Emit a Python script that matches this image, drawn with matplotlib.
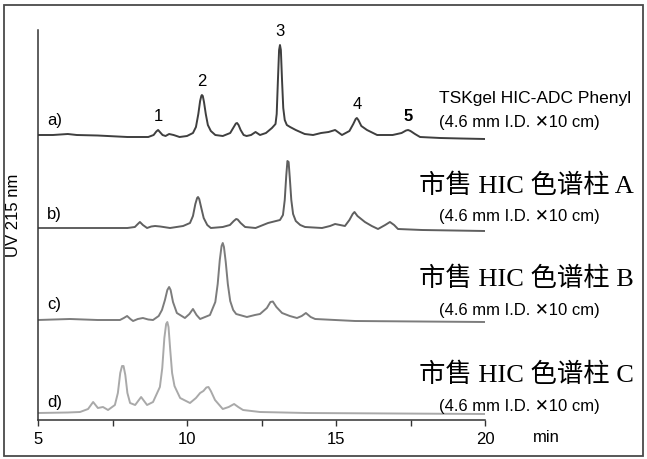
import matplotlib
matplotlib.use('Agg')
import matplotlib.pyplot as plt
from matplotlib.patches import Rectangle

plt.rcParams['font.family'] = ['Liberation Sans', 'DejaVu Sans']

# Chromatogram traces: retention time (min) and signal above each baseline (a.u.)
t_a = [5.0, 5.5, 6.0, 6.3, 7.0, 8.0, 8.7, 8.88, 8.97, 9.03, 9.09, 9.18, 9.28, 9.4, 9.55,
       9.75, 10.0, 10.2, 10.3, 10.38, 10.44, 10.48, 10.5, 10.53, 10.57, 10.63, 10.7,
       10.8, 10.95, 11.2, 11.45, 11.57, 11.64, 11.68, 11.73, 11.8, 11.9, 12.0, 12.15,
       12.3, 12.45, 12.65, 12.85, 12.97, 13.01, 13.05, 13.09, 13.12, 13.15, 13.19, 13.23,
       13.28, 13.35, 13.46, 13.65, 13.95, 14.23, 14.5, 14.75, 14.97, 15.2, 15.45, 15.58,
       15.66, 15.7, 15.75, 15.85, 16.04, 16.38, 16.9, 17.2, 17.35, 17.42, 17.5, 17.65,
       17.82, 18.5, 19.2, 20.0]
s_a = [1, 1, 2, 1, 0.5, -1, -1, 1, 4.5, 6, 4, 1, 0, 2, 1,
       -1, 0, 3, 9, 22, 35, 40, 41, 40, 34, 22, 11,
       5, 1, 0, 3, 9, 12.5, 13, 11, 6, 1, 0, 1,
       4, 1, 3, 8, 12, 22, 55, 86, 91, 86, 55, 28,
       16, 11, 9, 6, 2, 1, 3, 4, 6, 1, 5, 12,
       17, 18, 16, 10, 6, 1, 1, 3, 5.5, 6, 5, 2,
       -1, -2, -2.5, -3]

t_b = [5.0, 6.0, 7.0, 8.0, 8.25, 8.35, 8.42, 8.52, 8.66, 8.8, 8.93, 9.1, 9.43, 9.87,
       10.1, 10.2, 10.28, 10.34, 10.37, 10.41, 10.48, 10.56, 10.68, 10.8, 11.2, 11.44,
       11.57, 11.65, 11.7, 11.8, 11.95, 12.3, 12.72, 13.12, 13.22, 13.28, 13.33, 13.37,
       13.41, 13.45, 13.5, 13.56, 13.65, 13.8, 13.96, 14.53, 14.8, 14.97, 15.3, 15.45,
       15.56, 15.62, 15.72, 15.97, 16.2, 16.41, 16.65, 16.81, 16.95, 17.08, 17.89, 20.0]
s_b = [0, 0, 0, 0, 1, 4, 6, 3, 0, 1.5, 2, 1.5, 0, 2,
       5, 12, 24, 30, 31, 29, 20, 10, 3, 0, 1, 3,
       7, 9, 8.5, 5, 1, 0, 5, 8, 13, 28, 52, 67,
       66, 50, 28, 14, 7, 3, 1, 0, 2, 4, 2, 8,
       14, 16, 12, 6, 2, -1, 3, 6, 3, -1, -2, -3]

t_c = [5.0, 6.07, 7.0, 7.75, 7.88, 7.99, 8.1, 8.19, 8.35, 8.52, 8.7, 8.86, 9.05, 9.16,
       9.26, 9.34, 9.4, 9.45, 9.53, 9.66, 9.93, 10.08, 10.2, 10.32, 10.44, 10.77, 10.95,
       11.03, 11.1, 11.16, 11.2, 11.24, 11.3, 11.37, 11.45, 11.55, 11.65, 12.01, 12.28,
       12.45, 12.68, 12.8, 12.88, 13.0, 13.19, 13.45, 13.69, 13.85, 13.99, 14.15, 14.3,
       15.64, 20.0]
s_c = [0, 1, 0, 0, 2, 4, 1, -1, 1, 2, 0.5, 0, 4, 10,
       20, 30, 33, 30, 18, 7, 2, 6, 11, 5, 1, 5, 18,
       36, 60, 74, 77, 73, 58, 36, 19, 10, 6, 3, 5,
       6, 12, 18, 18.5, 13, 7, 4, 2, 4, 7, 3, 1,
       -1, -2]

t_d = [5.0, 6.0, 6.41, 6.68, 6.85, 7.01, 7.18, 7.35, 7.58, 7.68, 7.76, 7.82, 7.87,
       7.93, 8.0, 8.09, 8.26, 8.46, 8.66, 8.86, 9.09, 9.17, 9.24, 9.3, 9.34, 9.38, 9.44,
       9.5, 9.58, 9.77, 10.1, 10.3, 10.44, 10.55, 10.65, 10.72, 10.8, 10.94, 11.2, 11.4,
       11.58, 11.72, 11.88, 12.45, 14.0, 17.0, 20.0]
s_d = [0, 0.5, 1, 4, 11, 5, 6, 3, 8, 20, 40, 47, 47,
       38, 20, 10, 8, 16, 8, 11, 26, 45, 75, 89, 91, 86, 62,
       40, 27, 15, 10, 15, 20, 22, 25.5, 26, 22, 13, 4, 6,
       9, 6, 3, 1, 0, -0.5, -1]

trace_labels = ['a)', 'b)', 'c)', 'd)']
peak_numbers = ['1', '2', '3', '4', '5']
peak_times = [9.03, 10.5, 13.12, 15.7, 17.42]
column_names = ['TSKgel HIC-ADC Phenyl', '市售 HIC 色谱柱 A', '市售 HIC 色谱柱 B', '市售 HIC 色谱柱 C']
column_size = '(4.6 mm I.D. \u271510 cm)'

W, H = 647, 459
fig = plt.figure(figsize=(W / 100, H / 100), dpi=100)


def fx(px):
    return px / W


def fy(py):
    return 1 - py / H


ax = fig.add_axes([fx(38), fy(420), fx(485) - fx(38), (420 - 30) / H])
ax.set_xlim(5, 20)
ax.set_ylim(0, 390)

offsets = [284, 192, 100, 7]
colors = ['#3f3f3f', '#5f5f5f', '#7c7c7c', '#a9a9a9']
traces = [(t_a, s_a), (t_b, s_b), (t_c, s_c), (t_d, s_d)]
for (t, s), off, col in zip(traces, offsets, colors):
    ax.plot(t, [v + off for v in s], color=col, lw=1.4, solid_joinstyle='round')

for sp in ['top', 'right']:
    ax.spines[sp].set_visible(False)
for sp in ['left', 'bottom']:
    ax.spines[sp].set_color('#333333')
    ax.spines[sp].set_linewidth(1.1)

ax.set_xticks([5, 10, 15, 20])
ax.set_xticks([7.5, 12.5, 17.5], minor=True)
ax.set_yticks([])
ax.tick_params(axis='x', which='both', direction='out', length=4, width=1,
               color='#333333', labelsize=12, pad=5)

# peak numbers on trace a
peak_tops = [s_a[t_a.index(p)] for p in peak_times]
for n, p, top in zip(peak_numbers, peak_times, peak_tops):
    ax.text(p, 284 + top + 6, n, ha='center', va='bottom', fontsize=12,
            fontweight='bold' if n == '5' else 'normal')

# trace labels
label_y = [120, 215, 305, 402]
for lab, py in zip(trace_labels, label_y):
    fig.text(fx(47), fy(py), lab, fontsize=12, ha='left', va='center')

# column descriptions
fig.text(fx(439), fy(99), column_names[0], fontsize=12.5, ha='left', va='center')
fig.text(fx(439), fy(123), column_size, fontsize=12, ha='left', va='center')
big_y = [186, 279, 375]
sub_y = [216, 311, 406]
for name, by, sy in zip(column_names[1:], big_y, sub_y):
    fig.text(fx(634), fy(by), name, fontsize=19, ha='right', va='center',
             family=['Liberation Serif', 'Noto Sans CJK SC'])
    fig.text(fx(439), fy(sy), column_size, fontsize=12, ha='left', va='center')

fig.text(fx(546), fy(438), 'min', fontsize=12, ha='center', va='center')
fig.text(fx(14), fy(215), 'UV 215 nm', fontsize=12, rotation=90, ha='center', va='center')

fig.patches.append(Rectangle((fx(4), fy(456)), fx(643) - fx(4), fy(5) - fy(456),
                             transform=fig.transFigure, fill=False,
                             edgecolor='#4a4a4a', lw=1.3))

fig.savefig('out.png', dpi=100)
